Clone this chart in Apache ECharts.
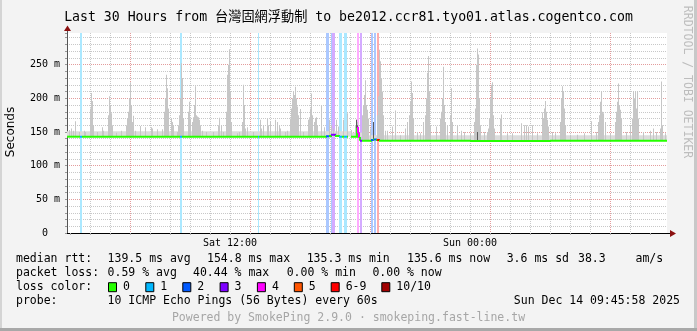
<!DOCTYPE html>
<html><head><meta charset="utf-8">
<script src="https://cdn.jsdelivr.net/npm/echarts@6/dist/echarts.min.js"></script>
<style>html,body{margin:0;padding:0;background:#f3f3f3}#c{width:697px;height:331px}</style>
</head><body><div id="c"></div>
<script>
// ---------------- data ----------------
const titleText = 'Last 30 Hours from 台灣固網浮動制 to be2012.ccr81.tyo01.atlas.cogentco.com';
const xRange = [3.85, 33.85];            // hours since Sat 00:00
const yMax = 297;                         // ms
const STEP = 0.05;                        // one rrd column = 3 minutes
const xTickHours = [4,5,6,7,8,9,10,11,12,13,14,15,16,17,18,19,20,21,22,23,24,25,26,27,28,29,30,31,32,33];
const xLabelHours = [12, 24];
const xLabelText = ['Sat 12:00', 'Sun 00:00'];
const yLabelValues = [0, 50, 100, 150, 200, 250];

const lossNames  = ['0', '1', '2', '3', '4', '5', '6-9', '10/10'];
const lossColors = ['#26ff00', '#00b8ff', '#0059ff', '#7e00ff', '#ff00ff', '#ff5500', '#ff0000', '#a00000'];

// median rtt, step segments: start hour, value (ms), loss class
const medianHours = [3.85, 4.5, 4.6, 9.5, 9.6, 13.4, 13.45, 16.8, 16.95, 17.05, 17.25, 17.45, 17.6, 17.7, 17.85, 17.9, 18.05, 18.35, 18.4, 18.45, 18.5, 18.6, 19.05, 19.15, 19.2, 19.3, 19.35, 19.45, 24.0, 28.0, 33.85];
const medianMs    = [143, 143, 143, 143, 143, 143, 143, 143.5, 144, 146, 144, 143, 143, 143, 143, null, 143, 156, 148, 141, 137, 137, 138, 139, 139, 138, 138, 137, 136.5, 137, 137];
const medianLoss  = [0, 1, 0, 1, 0, 1, 0, 2, 0, 3, 0, 1, 0, 1, 0, 0, 0, 4, 4, 0, 3, 0, 2, 0, 2, 0, 6, 0, 0, 0, 0];

// packet-loss background columns: hour, loss class
const lossHours = [4.5, 4.55, 9.5, 9.55, 13.4, 16.8, 16.85, 16.9, 17.05, 17.1, 17.15, 17.2, 17.45, 17.5, 17.55, 17.7, 17.75, 17.8, 18.35, 18.4, 18.5, 18.55, 19.05, 19.1, 19.2, 19.25, 19.35, 19.4];
const lossLevel = [1, 1, 1, 1, 1, 2, 2, 2, 2, 3, 3, 3, 1, 1, 1, 1, 1, 1, 4, 4, 3, 3, 2, 2, 2, 2, 6, 6];

// dense smoke band: start hour, upper edge (ms)
const baseSmoke = [[3.85, 151], [18.05, 149], [18.6, 145], [33.85, 145]];

// smoke spikes: hour, max rtt (ms)
const smokeSpikes = [
 [3.95,153],[4.05,155],[4.15,152],[4.25,166],[4.45,150],[4.7,152],[4.75,150],[5.0,185],[5.05,208],[5.1,196],[5.15,160],[5.35,150],
 [5.6,157],[5.65,152],[5.9,175],[5.95,203],[6.0,190],[6.05,178],[6.1,160],[6.3,149],[6.55,152],[6.8,160],[6.85,170],[6.9,180],
 [6.95,200],[7.0,224],[7.05,190],[7.1,165],[7.15,174],[7.25,152],[7.5,159],[7.75,157],[8.05,157],[8.1,155],[8.35,154],[8.6,154],
 [8.7,180],[8.75,200],[8.8,235],[8.85,215],[8.9,185],[9.05,170],[9.1,165],[9.15,160],
 [9.35,150],[9.4,160],[9.45,175],[9.5,200],[9.55,252],[9.6,230],[9.65,170],[9.9,180],[9.95,195],[10.0,170],[10.1,165],[10.15,172],
 [10.2,190],[10.25,218],[10.3,175],[10.35,173],[10.4,172],[10.45,168],[10.5,160],[10.6,152],[10.8,150],[11.15,150],[11.4,160],
 [11.45,171],[11.55,160],[11.65,150],[11.8,180],[11.85,235],[11.9,250],[11.95,273],[12.0,210],[12.05,165],[12.35,148],[12.45,150],
 [12.6,165],[12.65,220],[12.7,190],[12.75,155],[12.85,157],[13.15,150],[13.5,168],[13.55,155],[13.65,160],[13.85,170],[13.9,160],
 [14.0,165],[14.25,168],[14.35,165],[14.45,160],
 [14.5,155],[14.75,150],[14.85,152],[15.0,170],[15.05,185],[15.1,200],[15.15,210],[15.2,205],[15.25,217],[15.3,200],[15.35,188],
 [15.4,175],[15.5,184],[15.65,150],[15.9,168],[15.95,172],[16.0,185],[16.05,207],[16.1,175],[16.2,165],[16.25,170],[16.3,172],
 [16.35,160],[16.55,190],[16.7,157],[16.95,168],[17.05,160],[17.15,155],[17.3,168],[17.4,158],[17.65,168],[17.85,178],[18.05,153],
 [18.25,160],[18.3,168],[18.35,165],[18.6,175],[18.65,190],[18.7,205],[18.75,227],[18.8,190],[18.85,183],[18.9,170],[19.0,155],
 [19.15,165],[19.35,175],[19.4,203],[19.45,272],[19.5,255],[19.55,230],[19.6,210],[19.65,175],[19.75,152],
 [19.85,152],[20.1,158],[20.25,182],[20.5,145],[20.75,155],[20.85,165],[20.95,175],[21.0,195],[21.05,225],[21.1,208],[21.15,170],
 [21.35,150],[21.5,148],[21.65,165],[21.75,175],[21.8,200],[21.85,238],[21.9,263],[21.95,210],[22.0,160],[22.3,158],[22.5,170],
 [22.55,180],[22.6,200],[22.65,247],[22.7,190],[22.75,165],[22.85,160],[23.0,175],[23.05,215],[23.1,165],[23.35,160],[23.55,152],
 [23.7,150],[24.0,148],[24.2,165],[24.25,185],[24.3,250],[24.35,274],[24.4,265],[24.45,200],[24.5,160],[24.7,150],[24.85,150],
 [24.9,155],[24.95,170],[25.0,200],[25.05,220],[25.1,224],[25.15,175],[25.2,155],[25.5,170],[25.55,176],[25.85,148],[26.1,148],
 [26.55,163],[26.7,160],[26.8,160],[26.9,158],[27.1,160],[27.35,148],[27.6,179],[27.65,170],[27.7,185],[27.75,196],[27.8,180],
 [27.85,168],[27.9,158],[28.1,150],[28.25,148],[28.5,165],[28.55,200],[28.6,218],[28.65,210],[28.7,185],[28.75,160],[29.0,146],
 [29.35,146],[29.7,148],[30.05,166],
 [30.3,150],[30.4,165],[30.45,175],[30.5,195],[30.55,210],[30.6,180],[30.65,178],[30.75,165],[31.0,148],[31.25,165],[31.3,180],
 [31.35,195],[31.4,222],[31.45,190],[31.5,183],[31.55,170],[31.8,150],[32.0,160],[32.1,170],[32.15,211],[32.2,200],[32.25,211],
 [32.3,185],[32.35,211],[32.4,170],[32.65,150],[33.0,152],[33.15,155],[33.3,150],[33.5,155],[33.55,225],[33.6,160],[33.75,148]
];
// darker inner smoke columns: hour, upper edge (ms)
const darkSmoke = [[18.3,168],[18.35,160],[18.4,152],[19.15,165],[24.35,150]];

const statsRtt  = ['139.5 ms avg', '154.8 ms max', '135.3 ms min', '135.6 ms now', '3.6 ms sd', '38.3', 'am/s'];
const statsLoss = ['0.59 % avg', '40.44 % max', '0.00 % min', '0.00 % now'];
const probeText = '10 ICMP Echo Pings (56 Bytes) every 60s';
const dateText  = 'Sun Dec 14 09:45:58 2025';
const footerText = 'Powered by SmokePing 2.9.0 · smokeping.fast-line.tw';

// ---------------- helpers ----------------
function medianAt(h) {
  let v = medianMs[0];
  for (let i = 0; i < medianHours.length; i++) {
    if (medianHours[i] <= h + 1e-9) { if (medianMs[i] != null) v = medianMs[i]; } else break;
  }
  return v;
}
function lightColor(hex, a) {
  const r = parseInt(hex.slice(1,3),16), g = parseInt(hex.slice(3,5),16), b = parseInt(hex.slice(5,7),16);
  const f = c => Math.round(255 * (1 - a) + c * a);
  return 'rgb(' + f(r) + ',' + f(g) + ',' + f(b) + ')';
}
function rectRender(params, api) {
  const a = api.coord([api.value(0), api.value(2)]);
  const b = api.coord([api.value(1), api.value(3)]);
  return { type: 'rect', shape: { x: a[0], y: a[1], width: b[0] - a[0], height: b[1] - a[1] },
           style: { fill: api.visual('color') } };
}
function medianRender(params, api) {
  const x0 = api.value(0), y0 = api.value(1), x1 = api.value(2), y1 = api.value(3);
  const pts = [api.coord([x0, y0]), api.coord([x1, y0])];
  if (!isNaN(y1) && y1 !== y0) pts.push(api.coord([x1, y1]));
  return { type: 'polyline', shape: { points: pts },
           style: { stroke: lossColors[api.value(4)], lineWidth: 2, fill: null } };
}

// ---------------- series data ----------------
const lossData = lossHours.map((h, i) => ({
  value: [h, h + STEP, yMax, 0],
  itemStyle: { color: lightColor(lossColors[lossLevel[i]], 0.33) }
}));
const baseData = [];
for (let i = 0; i < baseSmoke.length - 1; i++) {
  baseData.push([baseSmoke[i][0], baseSmoke[i + 1][0], baseSmoke[i][1], medianAt(baseSmoke[i][0])]);
}
const spikeData = smokeSpikes.map(d => [d[0], d[0] + STEP, d[1], medianAt(d[0])]);
const darkData = darkSmoke.map(d => [d[0], d[0] + STEP, d[1], medianAt(d[0])]);
const medianData = [];
for (let i = 0; i < medianHours.length - 1; i++) {
  if (medianMs[i] == null) continue;
  const nxt = medianMs[i + 1] == null ? NaN : medianMs[i + 1];
  medianData.push([medianHours[i], medianMs[i], medianHours[i + 1], nxt, medianLoss[i]]);
}

// ---------------- layout / decoration ----------------
const MONO = "'DejaVu Sans Mono', monospace";
const G = { left: 67, top: 33, width: 600, height: 200 };
const rowY = [259.2, 273.2, 287.2, 301.2, 318.2];
const graphics = [];
function txt(x, y, s, extra) {
  graphics.push({ type: 'text', x: x, y: y, silent: true,
    style: Object.assign({ text: s, font: '11.5px ' + MONO, fill: '#000', verticalAlign: 'middle', align: 'left' }, extra || {}) });
}
// frame shading
graphics.push({ type: 'rect', shape: { x: 0, y: 0, width: 2, height: 331 }, style: { fill: '#d4d4d4' }, silent: true });
graphics.push({ type: 'rect', shape: { x: 694, y: 0, width: 3, height: 331 }, style: { fill: '#c8c8c8' }, silent: true });
graphics.push({ type: 'rect', shape: { x: 0, y: 328, width: 697, height: 3 }, style: { fill: '#a8a8a8' }, silent: true });
// axis arrows
graphics.push({ type: 'line', shape: { x1: 667, y1: 233.5, x2: 671, y2: 233.5 }, style: { stroke: '#000', lineWidth: 1 }, silent: true, z: 10 });
graphics.push({ type: 'polygon', shape: { points: [[670, 230], [676, 233.5], [670, 237]] }, style: { fill: '#8b1010' }, silent: true, z: 10 });
graphics.push({ type: 'line', shape: { x1: 67.5, y1: 33, x2: 67.5, y2: 30 }, style: { stroke: '#555', lineWidth: 1 }, silent: true, z: 10 });
graphics.push({ type: 'polygon', shape: { points: [[64, 31], [67.5, 25.5], [71, 31]] }, style: { fill: '#8b1010' }, silent: true, z: 10 });
// watermark
graphics.push({ type: 'text', x: 687, y: 82, rotation: -Math.PI / 2, silent: true,
  style: { text: 'RRDTOOL / TOBI OETIKER', font: '11.5px ' + MONO, fill: '#bdbdbd', align: 'center', verticalAlign: 'middle' } });
// "Seconds" axis title
graphics.push({ type: 'text', x: 10.5, y: 132, rotation: Math.PI / 2, silent: true,
  style: { text: 'Seconds', font: "12px 'DejaVu Sans', sans-serif", fill: '#000', align: 'center', verticalAlign: 'middle' } });
// legend rows
txt(16, rowY[0], 'median rtt:');
const rttX = [107.6, 207, 306.7, 407, 506.7, 578, 635.5];
statsRtt.forEach((s, i) => txt(rttX[i], rowY[0], s));
txt(16, rowY[1], 'packet loss:');
const lossX = [107.6, 193, 286.7, 372.4];
statsLoss.forEach((s, i) => txt(lossX[i], rowY[1], s));
txt(16, rowY[2], 'loss color:');
const boxX = [108, 145.3, 182.3, 219.6, 256.9, 293.8, 330.7, 381.3];
lossNames.forEach((n, i) => {
  graphics.push({ type: 'rect', silent: true, shape: { x: boxX[i] + 0.5, y: rowY[2] - 4.5, width: 8, height: 9 },
    style: { fill: lossColors[i], stroke: '#000', lineWidth: 1 } });
  txt(boxX[i] + 15, rowY[2], n);
});
txt(16, rowY[3], 'probe:');
txt(107.6, rowY[3], probeText);
txt(680, rowY[3], dateText, { align: 'right' });
txt(348.5, rowY[4], footerText, { align: 'center', fill: '#a6a6a6' });

// ---------------- chart ----------------
const chart = echarts.init(document.getElementById('c'), null, { renderer: 'canvas', width: 697, height: 331 });
const minorC = '#c8c8c8', majorC = '#e39c9c';
chart.setOption({
  animation: false,
  backgroundColor: '#f3f3f3',
  title: { text: titleText, left: 'center', top: 6,
    textStyle: { fontFamily: "'DejaVu Sans Mono', 'Noto Sans CJK TC', monospace", fontSize: 13.2, fontWeight: 'normal', color: '#000', lineHeight: 13 } },
  grid: Object.assign({ show: true, backgroundColor: '#ffffff', borderWidth: 0, containLabel: false, outerBoundsMode: 'none' }, G),
  xAxis: {
    type: 'value', min: xRange[0], max: xRange[1],
    axisLine: { show: true, lineStyle: { color: '#000', width: 1 } },
    axisTick: { show: true, customValues: xTickHours, length: 2, lineStyle: { color: '#aaaaaa' } },
    axisLabel: { customValues: xLabelHours, margin: 5, fontFamily: MONO, fontSize: 10, color: '#000',
      formatter: v => xLabelText[xLabelHours.indexOf(Math.round(v))] || '' },
    splitLine: { show: true, showMinLine: false, showMaxLine: false,
      lineStyle: { color: [minorC, minorC, majorC, minorC, minorC, minorC], type: [1, 1], width: 1 } }
  },
  yAxis: {
    type: 'value', min: 0, max: yMax, interval: 10,
    axisLine: { show: true, lineStyle: { color: '#555', width: 1 } },
    axisTick: { show: true, length: 2, lineStyle: { color: '#999' } },
    axisLabel: { customValues: yLabelValues, margin: 7, fontFamily: MONO, fontSize: 10, color: '#000',
      formatter: v => v === 0 ? '0  ' : v + ' m' },
    splitLine: { show: true, showMaxLine: false,
      lineStyle: { color: [majorC, minorC, minorC, minorC, minorC], type: [1, 1], width: 1 } }
  },
  series: [
    { type: 'custom', name: 'loss', renderItem: rectRender, data: lossData, clip: true, z: 1,
      encode: { x: [0, 1], y: [2, 3] }, silent: true },
    { type: 'custom', name: 'base smoke', renderItem: rectRender, data: baseData, clip: true, z: 2,
      itemStyle: { color: '#dcdcdc' }, encode: { x: [0, 1], y: [2, 3] }, silent: true },
    { type: 'custom', name: 'smoke', renderItem: rectRender, data: spikeData, clip: true, z: 3,
      itemStyle: { color: '#c6c6c6' }, encode: { x: [0, 1], y: [2, 3] }, silent: true },
    { type: 'custom', name: 'dark smoke', renderItem: rectRender, data: darkData, clip: true, z: 4,
      itemStyle: { color: '#5a5a5a' }, encode: { x: [0, 1], y: [2, 3] }, silent: true },
    { type: 'custom', name: 'median', renderItem: medianRender, data: medianData, clip: true, z: 5,
      encode: { x: [0, 2], y: [1, 3] }, silent: true }
  ],
  graphic: { elements: graphics }
});
</script></body></html>
